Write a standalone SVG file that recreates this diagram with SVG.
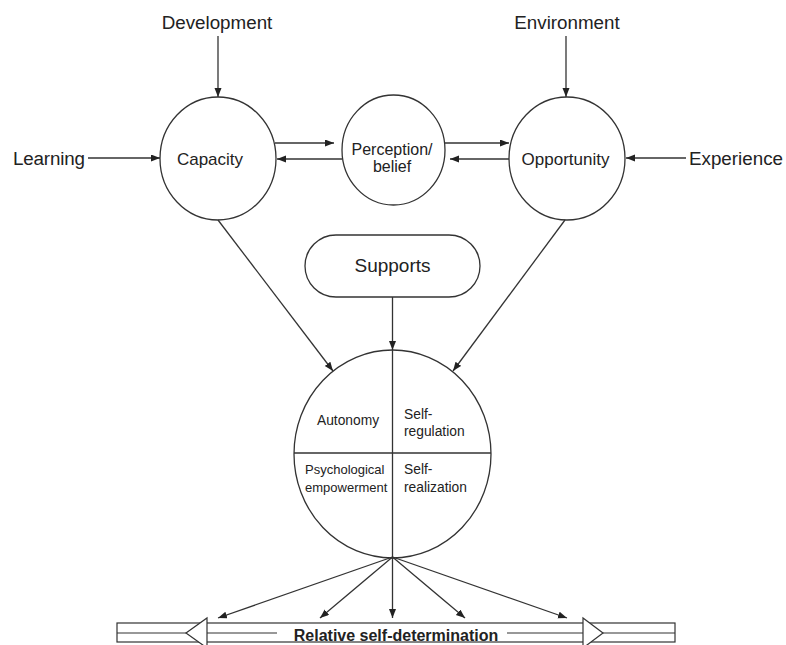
<svg xmlns="http://www.w3.org/2000/svg" width="786" height="645" viewBox="0 0 786 645">
<defs>
<style>
.n{fill:#fff;stroke:#333;stroke-width:1.3}
.c line{stroke:#333;stroke-width:1.3}
.a{marker-end:url(#ah)}
text{font-family:"Liberation Sans",Arial,Helvetica,sans-serif;fill:#222}
.o{font-size:18.8px}
.m{font-size:17px;text-anchor:middle}
.q{font-size:13.8px}
.t{fill:#fff;stroke:#333;stroke-width:1.2}
</style>
<marker id="ah" markerUnits="userSpaceOnUse" markerWidth="10" markerHeight="8" refX="9" refY="3.5" orient="auto">
<path d="M0,0 L9,3.5 L0,7 z" fill="#222"/>
</marker>
</defs>
<rect width="786" height="645" fill="#fff"/>

<g id="development"><text class="o" x="217" y="29" text-anchor="middle">Development</text></g>
<g id="environment"><text class="o" x="567" y="29" text-anchor="middle">Environment</text></g>
<g id="learning"><text class="o" x="13" y="165" textLength="72">Learning</text></g>
<g id="experience"><text class="o" x="689" y="165">Experience</text></g>

<g id="capacity"><ellipse class="n" cx="218" cy="158.5" rx="58" ry="61.5"/><text class="m" x="210" y="165">Capacity</text></g>
<g id="perception"><ellipse class="n" cx="393.5" cy="150" rx="51.5" ry="55"/><text class="m" x="392" y="155" style="font-size:16px">Perception/</text><text class="m" x="392" y="172" style="font-size:16px">belief</text></g>
<g id="opportunity"><ellipse class="n" cx="567" cy="158.5" rx="58" ry="61.5"/><text class="m" x="565.5" y="165">Opportunity</text></g>
<g id="supports"><rect class="n" x="305" y="235" width="175" height="62" rx="31" ry="31"/><text x="392.5" y="272" text-anchor="middle" style="font-size:19px">Supports</text></g>

<g id="self-determination">
<ellipse class="n" cx="392.5" cy="454" rx="98.5" ry="104"/>
<line x1="294" y1="453" x2="491" y2="453" stroke="#333" stroke-width="1.3"/>
<line x1="392.5" y1="350" x2="392.5" y2="557" stroke="#333" stroke-width="1.3"/>
<text class="q" x="348" y="425" text-anchor="middle">Autonomy</text>
<text class="q" x="404" y="419">Self-</text>
<text class="q" x="404" y="436">regulation</text>
<text class="q" x="305" y="474" style="font-size:13px">Psychological</text>
<text class="q" x="305" y="492" style="font-size:13px">empowerment</text>
<text class="q" x="404" y="474">Self-</text>
<text class="q" x="404" y="492">realization</text>
</g>

<g id="connectors" class="c">
<line class="a" x1="218" y1="36" x2="218" y2="97"/>
<line class="a" x1="566" y1="36" x2="566" y2="97"/>
<line class="a" x1="88" y1="158" x2="160" y2="158"/>
<line class="a" x1="686" y1="158" x2="626" y2="158"/>
<line class="a" x1="275" y1="143" x2="334" y2="143"/>
<line class="a" x1="342" y1="159" x2="277" y2="159"/>
<line class="a" x1="444" y1="143" x2="509" y2="143"/>
<line class="a" x1="509" y1="159" x2="450" y2="159"/>
<line class="a" x1="218" y1="220" x2="333" y2="371"/>
<line class="a" x1="565" y1="220" x2="453" y2="371"/>
<line class="a" x1="392.5" y1="297" x2="392.5" y2="350"/>
<line class="a" x1="392.5" y1="557" x2="218" y2="618"/>
<line class="a" x1="392.5" y1="557" x2="320" y2="618"/>
<line class="a" x1="392.5" y1="557" x2="392.5" y2="618"/>
<line class="a" x1="392.5" y1="557" x2="465" y2="618"/>
<line class="a" x1="392.5" y1="557" x2="567" y2="618"/>
</g>

<g id="relative-self-determination">
<rect x="117" y="623" width="558" height="19" fill="#fff" stroke="#333" stroke-width="1.2"/>
<line x1="117" y1="633" x2="675" y2="633" stroke="#333" stroke-width="1.2"/>
<polygon class="t" points="186,633 207,618 207,648"/>
<polygon class="t" points="603,633 583,618 583,648"/>
<rect x="277" y="627" width="230" height="13" fill="#fff"/>
<text x="396" y="641" text-anchor="middle" style="font-size:16px;font-weight:bold">Relative self-determination</text>
</g>
</svg>
